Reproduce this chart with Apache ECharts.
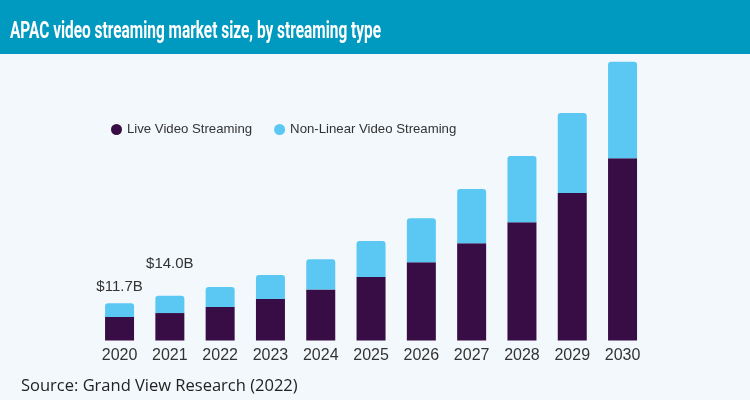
<!DOCTYPE html>
<html>
<head>
<meta charset="utf-8">
<script src="https://cdn.jsdelivr.net/npm/echarts@6/dist/echarts.min.js"></script>
<style>
html,body{margin:0;padding:0;background:#f3f8fc;}
#chart{width:750px;height:400px;}
</style>
</head>
<body>
<div id="chart"></div>
<script>
const titleText = 'APAC video streaming market size, by streaming type';
const sourceText = 'Source: Grand View Research (2022)';
const categories = ['2020','2021','2022','2023','2024','2025','2026','2027','2028','2029','2030'];
const seriesNames = ['Live Video Streaming', 'Non-Linear Video Streaming'];
const liveValues = [7.4, 8.6, 10.5, 13.0, 16.0, 19.9, 24.5, 30.5, 37.1, 46.2, 57.1];
const nonLinearValues = [4.3, 5.4, 6.3, 7.5, 9.5, 11.3, 13.8, 17.0, 20.7, 25.1, 30.3];
const totalLabels = ['$11.7B', '$14.0B'];

const colors = ['#380d45', '#5bc8f4'];

function measure(text, font) {
  const c = document.createElement('canvas').getContext('2d');
  c.font = font;
  return c.measureText(text).width;
}
const titleFont = 'bold 24px Roboto';
const titleScale = 371 / measure(titleText, titleFont);

const nlData = nonLinearValues.map((v, i) => {
  const item = { value: v };
  if (i < totalLabels.length) {
    item.label = {
      show: true,
      position: 'top',
      formatter: totalLabels[i],
      distance: i === 0 ? 9 : 24,
      color: '#333',
      fontSize: 15,
      fontFamily: 'Liberation Sans'
    };
  }
  return item;
});

const chart = echarts.init(document.getElementById('chart'));
chart.setOption({
  backgroundColor: '#f3f8fc',
  animation: false,
  graphic: [
    { type: 'rect', left: 0, top: 0, shape: { width: 750, height: 54 }, style: { fill: '#0099c0' } },
    { type: 'text', x: 10, y: 32, scaleX: titleScale, style: { text: titleText, font: titleFont, fill: '#ffffff', verticalAlign: 'middle' } },
    { type: 'text', x: 21, y: 386, style: { text: sourceText, font: '16.5px "Open Sans"', fill: '#222', verticalAlign: 'middle' } }
  ],
  legend: {
    left: 106, top: 118,
    itemWidth: 11, itemHeight: 11, itemGap: 22,
    icon: 'circle',
    textStyle: { color: '#333', fontSize: 13.2, fontFamily: 'Liberation Sans' },
    data: seriesNames
  },
  grid: { left: 94.4, right: 102.3, top: 53.4, bottom: 59.5 },
  xAxis: {
    type: 'category',
    data: categories,
    axisLine: { show: false },
    axisTick: { show: false },
    axisLabel: { color: '#333', fontSize: 16, fontFamily: 'Liberation Sans', margin: 7 }
  },
  yAxis: { type: 'value', min: 0, max: 90, show: false, splitLine: { show: false } },
  series: [
    { name: seriesNames[0], type: 'bar', stack: 'total', data: liveValues, barWidth: 29,
      itemStyle: { color: colors[0] } },
    { name: seriesNames[1], type: 'bar', stack: 'total', data: nlData, barWidth: 29,
      itemStyle: { color: colors[1], borderRadius: [3, 3, 0, 0] } }
  ]
});
</script>
</body>
</html>
